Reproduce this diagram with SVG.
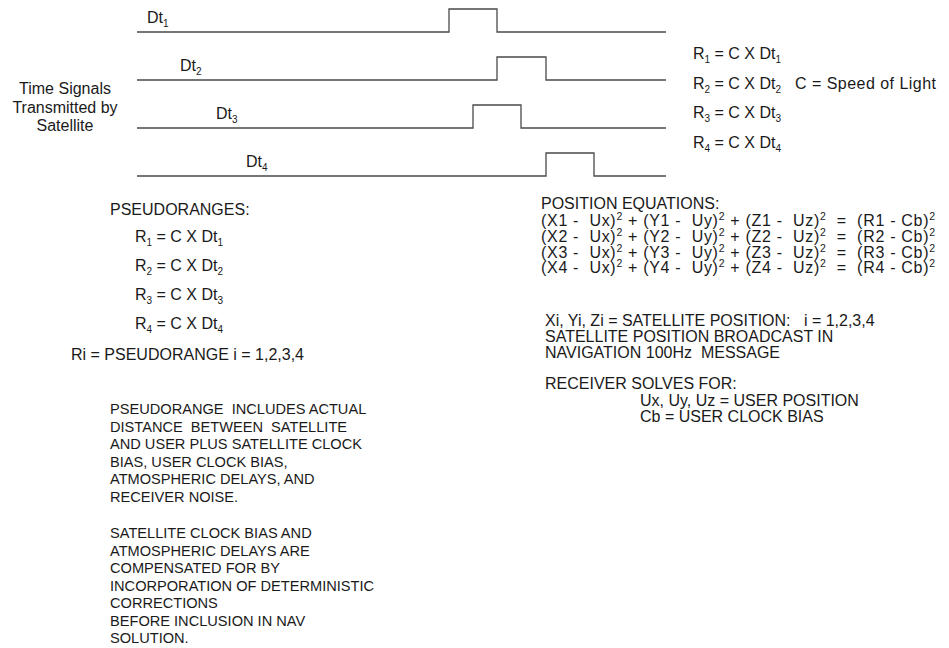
<svg xmlns="http://www.w3.org/2000/svg" width="949" height="648" viewBox="0 0 949 648">
<style>
text{font-family:"Liberation Sans",Arial,Helvetica,sans-serif;fill:#1a1a1a;white-space:pre;}
.f16{font-size:16px;}
.f15{font-size:14.6px;}
.s{font-size:10px;}
.p{font-size:10.5px;}
.sig{fill:none;stroke:#4a4a4a;stroke-width:1.3;}
</style>
<rect width="949" height="648" fill="#ffffff"/>
<g id="connectors">
<path class="sig" d="M137,32 H449 V9 H497 V32 H666"/>
<path class="sig" d="M137,80 H497 V57 H546 V80 H666"/>
<path class="sig" d="M137,128 H473 V105 H521 V128 H666"/>
<path class="sig" d="M137,176 H546 V153 H594 V176 H666"/>
</g>
<g id="dt-labels" class="f16">
<text x="147" y="23">Dt<tspan class="s" dy="4">1</tspan></text>
<text x="180" y="71">Dt<tspan class="s" dy="4">2</tspan></text>
<text x="216" y="119">Dt<tspan class="s" dy="4">3</tspan></text>
<text x="246" y="167">Dt<tspan class="s" dy="4">4</tspan></text>
</g>
<g id="time-signals-label" class="f16" text-anchor="middle">
<text x="65" y="94">Time Signals</text>
<text x="65" y="112.5">Transmitted by</text>
<text x="65" y="131">Satellite</text>
</g>
<g id="range-equations-right" class="f16">
<text x="693" y="59">R<tspan class="s" dy="4">1</tspan><tspan dy="-4"> = C X Dt</tspan><tspan class="s" dy="4">1</tspan></text>
<text x="693" y="88.5">R<tspan class="s" dy="4">2</tspan><tspan dy="-4"> = C X Dt</tspan><tspan class="s" dy="4">2</tspan></text>
<text x="795" y="88.5" textLength="141" lengthAdjust="spacing">C = Speed of Light</text>
<text x="693" y="118">R<tspan class="s" dy="4">3</tspan><tspan dy="-4"> = C X Dt</tspan><tspan class="s" dy="4">3</tspan></text>
<text x="693" y="147.5">R<tspan class="s" dy="4">4</tspan><tspan dy="-4"> = C X Dt</tspan><tspan class="s" dy="4">4</tspan></text>
</g>
<g id="pseudoranges" class="f16">
<text x="110" y="215">PSEUDORANGES:</text>
<text x="135" y="242">R<tspan class="s" dy="4">1</tspan><tspan dy="-4"> = C X Dt</tspan><tspan class="s" dy="4">1</tspan></text>
<text x="135" y="271">R<tspan class="s" dy="4">2</tspan><tspan dy="-4"> = C X Dt</tspan><tspan class="s" dy="4">2</tspan></text>
<text x="135" y="300">R<tspan class="s" dy="4">3</tspan><tspan dy="-4"> = C X Dt</tspan><tspan class="s" dy="4">3</tspan></text>
<text x="135" y="329">R<tspan class="s" dy="4">4</tspan><tspan dy="-4"> = C X Dt</tspan><tspan class="s" dy="4">4</tspan></text>
<text x="71" y="360">Ri = PSEUDORANGE i = 1,2,3,4</text>
</g>
<g id="pseudorange-note" class="f15">
<text x="110" y="414">PSEUDORANGE  INCLUDES ACTUAL</text>
<text x="110" y="431.5">DISTANCE  BETWEEN  SATELLITE</text>
<text x="110" y="449">AND USER PLUS SATELLITE CLOCK</text>
<text x="110" y="466.5">BIAS, USER CLOCK BIAS,</text>
<text x="110" y="484">ATMOSPHERIC DELAYS, AND</text>
<text x="110" y="501.5">RECEIVER NOISE.</text>
</g>
<g id="compensation-note" class="f15">
<text x="110" y="538">SATELLITE CLOCK BIAS AND</text>
<text x="110" y="555.5">ATMOSPHERIC DELAYS ARE</text>
<text x="110" y="573">COMPENSATED FOR BY</text>
<text x="110" y="590.5">INCORPORATION OF DETERMINISTIC</text>
<text x="110" y="608">CORRECTIONS</text>
<text x="110" y="625.5">BEFORE INCLUSION IN NAV</text>
<text x="110" y="643">SOLUTION.</text>
</g>
<g id="position-equations" class="f16">
<text x="541" y="209">POSITION EQUATIONS:</text>
<text x="541" y="226" textLength="394" lengthAdjust="spacing">(X1 -  Ux)<tspan class="p" dy="-6">2</tspan><tspan dy="6"> + (Y1 -  Uy)</tspan><tspan class="p" dy="-6">2</tspan><tspan dy="6"> + (Z1 -  Uz)</tspan><tspan class="p" dy="-6">2</tspan><tspan dy="6">  =  (R1 - Cb)</tspan><tspan class="p" dy="-6">2</tspan></text>
<text x="541" y="242" textLength="394" lengthAdjust="spacing">(X2 -  Ux)<tspan class="p" dy="-6">2</tspan><tspan dy="6"> + (Y2 -  Uy)</tspan><tspan class="p" dy="-6">2</tspan><tspan dy="6"> + (Z2 -  Uz)</tspan><tspan class="p" dy="-6">2</tspan><tspan dy="6">  =  (R2 - Cb)</tspan><tspan class="p" dy="-6">2</tspan></text>
<text x="541" y="257.5" textLength="394" lengthAdjust="spacing">(X3 -  Ux)<tspan class="p" dy="-6">2</tspan><tspan dy="6"> + (Y3 -  Uy)</tspan><tspan class="p" dy="-6">2</tspan><tspan dy="6"> + (Z3 -  Uz)</tspan><tspan class="p" dy="-6">2</tspan><tspan dy="6">  =  (R3 - Cb)</tspan><tspan class="p" dy="-6">2</tspan></text>
<text x="541" y="273" textLength="394" lengthAdjust="spacing">(X4 -  Ux)<tspan class="p" dy="-6">2</tspan><tspan dy="6"> + (Y4 -  Uy)</tspan><tspan class="p" dy="-6">2</tspan><tspan dy="6"> + (Z4 -  Uz)</tspan><tspan class="p" dy="-6">2</tspan><tspan dy="6">  =  (R4 - Cb)</tspan><tspan class="p" dy="-6">2</tspan></text>
</g>
<g id="satellite-position-note" class="f16">
<text x="545" y="326">Xi, Yi, Zi = SATELLITE POSITION:   i = 1,2,3,4</text>
<text x="545" y="342">SATELLITE POSITION BROADCAST IN</text>
<text x="545" y="358">NAVIGATION 100Hz  MESSAGE</text>
</g>
<g id="receiver-solves" class="f16">
<text x="545" y="389">RECEIVER SOLVES FOR:</text>
<text x="640" y="405.5">Ux, Uy, Uz = USER POSITION</text>
<text x="640" y="422">Cb = USER CLOCK BIAS</text>
</g>
</svg>
